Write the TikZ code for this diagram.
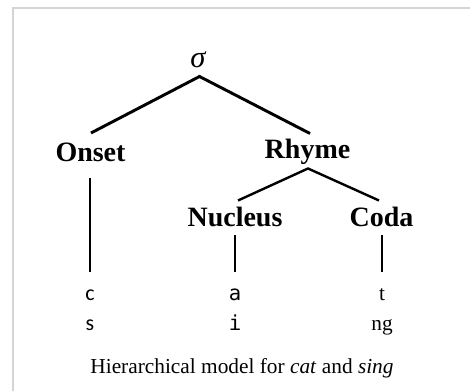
\documentclass[tikz,border=0pt]{standalone}
\usepackage{fontspec}
\setmainfont{Liberation Serif}
\newfontfamily\sansc{Carlito}
\newfontfamily\monoa{DejaVu Sans Mono}
\begin{document}
\begin{tikzpicture}[x=0.75pt,y=-0.75pt,
  lbl/.style={font=\fontsize{21}{24}\selectfont\bfseries, anchor=base, inner sep=0pt},
  seg/.style={font=\fontsize{16}{18}\selectfont, anchor=base, inner sep=0pt},
  upper/.style={line width=2.2pt, line cap=butt},
  lower/.style={line width=1.8pt, line cap=butt},
  frameline/.style={draw=black!17, line width=1.5pt}]
\useasboundingbox (0,0) rectangle (470,391);
\draw[frameline] (12.5,391) -- (12.5,8.5) -- (470,8.5);

% nodes
\node[font=\fontsize{23}{26}\selectfont\itshape, anchor=base, inner sep=0pt] (sigma) at (198,68) {σ};
\node[lbl] (onset) at (90.5,162) {Onset};
\node[lbl] (rhyme) at (307.5,158.5) {Rhyme};
\node[lbl] (nucleus) at (235,227) {Nucleus};
\node[lbl] (coda) at (381.5,227) {Coda};

\node[seg, font=\fontsize{16.5}{18}\selectfont\sansc] (c) at (90,300) {c};
\node[seg, font=\fontsize{16.5}{18}\selectfont\sansc] (s) at (90,330) {s};
\node[seg, font=\fontsize{15.5}{18}\selectfont\monoa] (a) at (235,300) {a};
\node[seg, font=\fontsize{15.5}{18}\selectfont\monoa] (i) at (235,330) {i};
\node[seg] (t) at (382,300) {t};
\node[seg] (ng) at (382,330) {ng};

\node[font=\fontsize{16}{18}\selectfont, anchor=base, inner sep=0pt] (caption) at (242,373)
  {Hierarchical model for \textit{cat} and \textit{sing}};

% connector ends
\coordinate (sigmafoot) at (199.5,76.5);
\coordinate (onsettop) at (91,133);
\coordinate (rhymetop) at (310,133.5);
\coordinate (rhymefoot) at (308,168.5);
\coordinate (nucleustop) at (238,200.5);
\coordinate (codatop) at (379,200.5);
\coordinate (onsetfoot) at (90,178);
\coordinate (cvtop) at (90,272);
\coordinate (nucleusfoot) at (235,235);
\coordinate (avtop) at (235,272);
\coordinate (codafoot) at (382,235);
\coordinate (tvtop) at (382,272);

\draw[upper] (onsettop) -- (sigmafoot) -- (rhymetop);
\draw[lower] (nucleustop) -- (rhymefoot) -- (codatop);
\draw[lower] (onsetfoot) -- (cvtop);
\draw[lower] (nucleusfoot) -- (avtop);
\draw[lower] (codafoot) -- (tvtop);
\end{tikzpicture}
\end{document}
